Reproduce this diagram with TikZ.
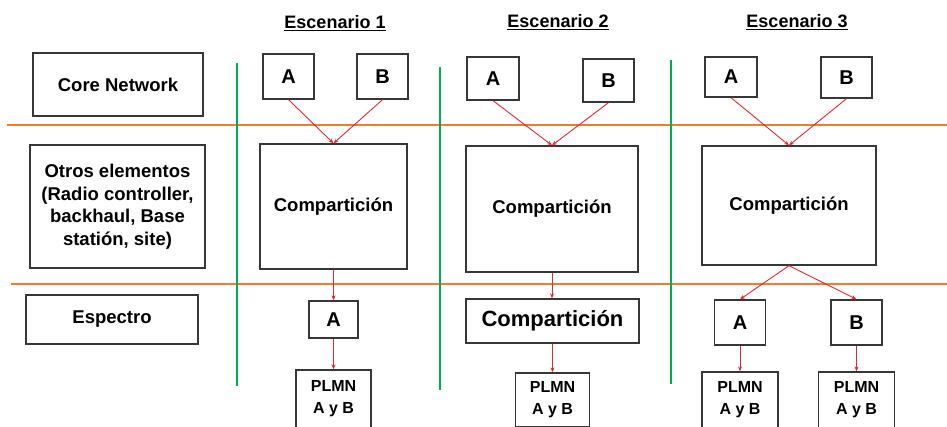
\documentclass[tikz,border=0pt]{standalone}
\usepackage{fontspec}
\setmainfont{Liberation Sans}
\usetikzlibrary{arrows.meta}
\definecolor{sepOrange}{RGB}{237,125,49}
\definecolor{sepGreen}{RGB}{0,176,80}
\definecolor{linkRed}{RGB}{226,42,48}
\definecolor{boxEdge}{RGB}{55,55,55}
\tikzset{
  box/.style={draw=boxEdge, line width=1.3pt, inner sep=0pt, align=center,
              font=\bfseries\fontsize{18.5}{22.5}\selectfont},
  letter/.style={box, font=\bfseries\fontsize{20}{24}\selectfont},
  plmn/.style={box, font=\bfseries\fontsize{16}{22}\selectfont},
  title/.style={inner sep=0pt, font=\bfseries\fontsize{18}{22}\selectfont},
  link/.style={draw=linkRed, line width=0.9pt, -{Stealth[length=5pt,width=4pt]}},
  hsep/.style={draw=sepOrange, line width=2.2pt},
  vsep/.style={draw=sepGreen, line width=2.6pt}
}
\begin{document}
\begin{tikzpicture}[x=1pt,y=-1pt]
\useasboundingbox (0,0) rectangle (947,426);
\clip (0,0) rectangle (947,426);

% layer separators
\coordinate (h1l) at (7,125);  \coordinate (h1r) at (947,125);
\coordinate (h2l) at (11,284); \coordinate (h2r) at (947,284);
\draw[hsep] (h1l) -- (h1r);
\draw[hsep] (h2l) -- (h2r);
\coordinate (v1t) at (237,63);  \coordinate (v1b) at (237,386);
\coordinate (v2t) at (440,67);  \coordinate (v2b) at (440,390);
\coordinate (v3t) at (671,60);  \coordinate (v3b) at (671,384);
\draw[vsep] (v1t) -- (v1b);
\draw[vsep] (v2t) -- (v2b);
\draw[vsep] (v3t) -- (v3b);

% row labels
\node[box, minimum width=170pt, minimum height=63pt] (core) at (118,84.5) {Core Network};
\node[box, minimum width=175pt, minimum height=123pt] (otros) at (117.5,206.5)
  {Otros elementos\\(Radio controller,\\backhaul, Base\\statión, site)};
\node[box, minimum width=172pt, minimum height=49pt] (esp) at (112,319.5) {Espectro};

% titles
\node[title] (t1) at (335,23) {\underline{Escenario 1}};
\node[title] (t2) at (558,22) {\underline{Escenario 2}};
\node[title] (t3) at (797,22) {\underline{Escenario 3}};

% Escenario 1
\node[letter, minimum width=51pt, minimum height=45pt] (a1) at (288.5,76.5) {A};
\node[letter, minimum width=51pt, minimum height=45pt] (b1) at (382.5,76.5) {B};
\node[box, minimum width=147pt, minimum height=125pt] (c1) at (333.5,206.5) {Compartición};
\node[letter, minimum width=49pt, minimum height=37pt] (sa1) at (333.5,319.5) {A};
\node[plmn, minimum width=75pt, minimum height=58pt] (p1) at (333.5,399) {PLMN\\A y B};
\draw[link] (a1.south) -- (c1.north);
\draw[link] (b1.south) -- (c1.north);
\draw[link] (c1.south) -- (sa1.north);
\draw[link] (sa1.south) -- (p1.north);

% Escenario 2
\node[letter, minimum width=52pt, minimum height=43pt] (a2) at (493,78.5) {A};
\node[letter, minimum width=51pt, minimum height=43pt] (b2) at (608.5,80.5) {B};
\node[box, minimum width=172pt, minimum height=126pt] (c2) at (552,209) {Compartición};
\node[box, minimum width=173pt, minimum height=44pt, font=\bfseries\fontsize{22}{26}\selectfont]
  (sc2) at (552.5,321) {Compartición};
\node[plmn, minimum width=74pt, minimum height=54pt] (p2) at (552.5,400) {PLMN\\A y B};
\draw[link] (a2.south) -- (c2.north);
\draw[link] (b2.south) -- (c2.north);
\draw[link] (c2.south) -- (c2.south |- sc2.north);
\draw[link] (sc2.south) -- (p2.north);

% Escenario 3
\node[letter, minimum width=52pt, minimum height=40pt] (a3) at (731,77) {A};
\node[letter, minimum width=51pt, minimum height=41pt] (b3) at (846.5,77.5) {B};
\node[box, minimum width=174pt, minimum height=119pt] (c3) at (789,205.5) {Compartición};
\node[letter, minimum width=51pt, minimum height=45pt] (sa3) at (740,322.5) {A};
\node[letter, minimum width=51pt, minimum height=45pt] (sb3) at (856.5,322.5) {B};
\node[plmn, minimum width=76pt, minimum height=56pt] (pa3) at (740,400) {PLMN\\A y B};
\node[plmn, minimum width=76pt, minimum height=56pt] (pb3) at (856.5,400) {PLMN\\A y B};
\draw[link] (a3.south) -- (c3.north);
\draw[link] (b3.south) -- (c3.north);
\draw[link] (c3.south) -- (sa3.north);
\draw[link] (c3.south) -- (sb3.north);
\draw[link] (sa3.south) -- (pa3.north);
\draw[link] (sb3.south) -- (pb3.north);
\end{tikzpicture}
\end{document}
